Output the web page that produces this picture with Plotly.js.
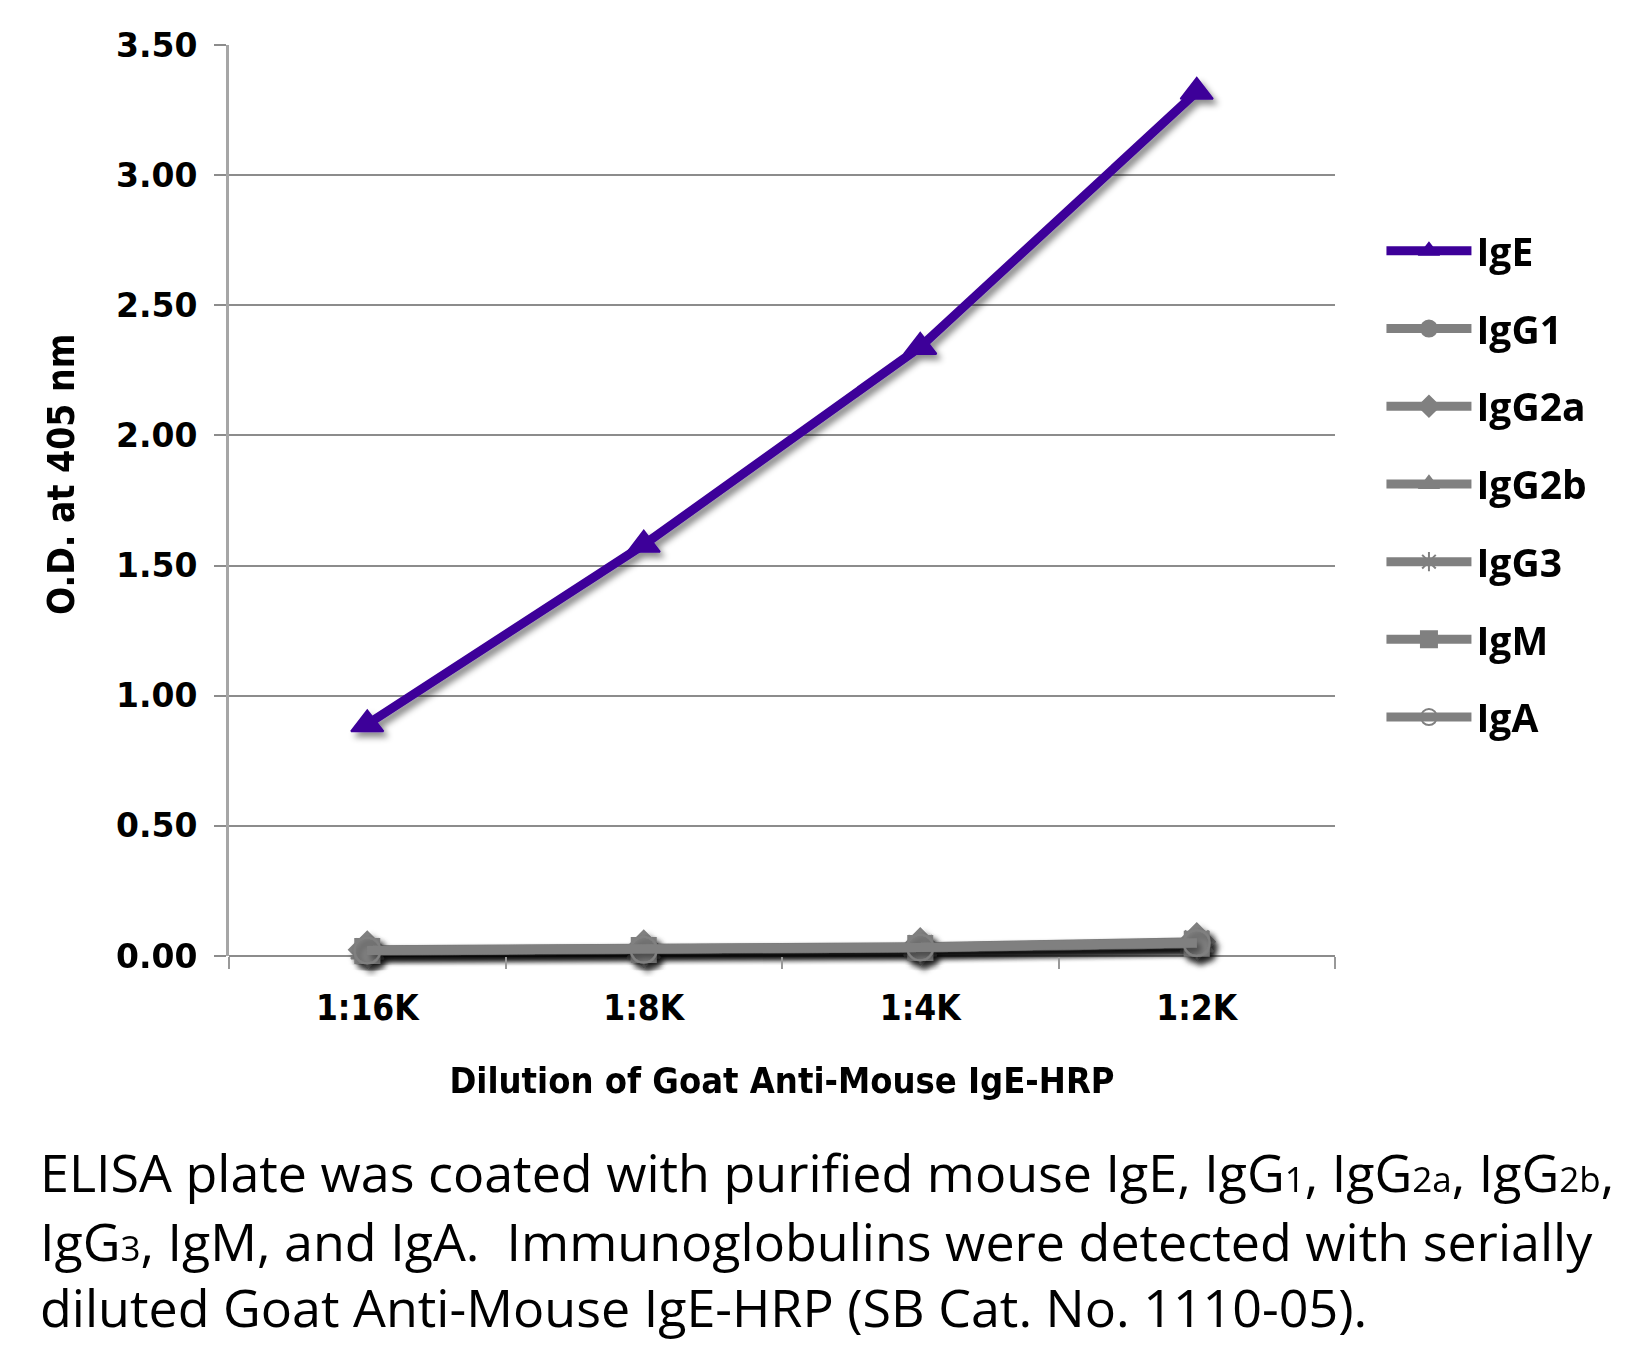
<!DOCTYPE html>
<html>
<head>
<meta charset="utf-8">
<script src="https://cdn.plot.ly/plotly-3.0.1.min.js"></script>
<style>
  html, body { margin: 0; padding: 0; background: #fff; }
  #chart { width: 1635px; height: 1345px; }
</style>
</head>
<body>
<div id="chart"></div>
<script>
// ---- data ----
const dilutions = ["1:16K", "1:8K", "1:4K", "1:2K"];
const IgE   = [0.89, 1.58, 2.34, 3.32];
const IgG1  = [0.020, 0.024, 0.032, 0.050];
const IgG2a = [0.024, 0.027, 0.036, 0.055];
const IgG2b = [0.017, 0.021, 0.029, 0.045];
const IgG3  = [0.022, 0.025, 0.034, 0.052];
const IgM   = [0.019, 0.023, 0.031, 0.047];
const IgA   = [0.021, 0.024, 0.033, 0.050];
const yTicks = [0, 0.5, 1, 1.5, 2, 2.5, 3, 3.5];

const purple = "#3d0099";
const gray = "#808080";
const narrow = "Liberation Sans Narrow, DejaVu Sans Condensed, Roboto Condensed, Liberation Sans, sans-serif";
const caption = "Open Sans, Noto Sans, Lato, sans-serif";

function series(name, y, color, symbol, msize, lw) {
  return {
    type: "scatter",
    mode: "lines+markers",
    name: name,
    legendgroup: name,
    x: dilutions,
    y: y,
    line: { color: color, width: lw },
    marker: { symbol: symbol, size: msize, color: color, line: { color: color, width: 2 } },
    cliponaxis: false
  };
}

const traces = [
  series("IgE", IgE, purple, "triangle-up", 28, 9),
  series("IgG1", IgG1, gray, "circle", 26, 9),
  series("IgG2a", IgG2a, gray, "diamond", 28, 9),
  series("IgG2b", IgG2b, gray, "triangle-up", 28, 9),
  series("IgG3", IgG3, gray, "asterisk-open", 28, 9),
  series("IgM", IgM, gray, "square", 24, 9),
  series("IgA", IgA, gray, "circle-open", 26, 9)
];

const sub = s => '<span style="font-size:35px">' + s + '</span>';

function captionLine(text, y) {
  return {
    xref: "paper", yref: "paper", x: -0.1727, y: y, xanchor: "left", yanchor: "middle",
    showarrow: false, align: "left",
    font: { family: caption, size: 52, color: "#000" },
    text: text
  };
}

const layout = {
  width: 1635,
  height: 1345,
  paper_bgcolor: "#ffffff",
  plot_bgcolor: "#ffffff",
  margin: { l: 229, r: 300, t: 45, b: 389 },
  showlegend: true,
  legend: {
    x: 1.042, xanchor: "left",
    y: 0.809, yanchor: "top",
    font: { family: "Open Sans, Lato, sans-serif", size: 39, color: "#000", weight: "bold" },
    tracegroupgap: 24,
    itemwidth: 85,
    bgcolor: "rgba(0,0,0,0)"
  },
  xaxis: {
    type: "category",
    range: [-0.5, 3.5],
    showgrid: false,
    showline: false,
    zeroline: false,
    ticks: "outside",
    tickson: "boundaries",
    ticklen: 12,
    tickwidth: 2,
    tickcolor: "#999",
    ticklabelstandoff: 28,
    tickfont: { family: narrow, size: 35, color: "#000", weight: "bold" },
    title: {
      text: "Dilution of Goat Anti-Mouse IgE-HRP",
      font: { family: narrow, size: 36, color: "#000", weight: "bold" },
      standoff: 40
    }
  },
  yaxis: {
    range: [0, 3.5],
    tickvals: yTicks,
    ticktext: yTicks.map(v => v.toFixed(2)),
    showgrid: true,
    gridcolor: "#8c8c8c",
    gridwidth: 2,
    zeroline: true,
    zerolinecolor: "#8c8c8c",
    zerolinewidth: 2,
    showline: true,
    linecolor: "#a6a6a6",
    linewidth: 3,
    ticks: "outside",
    ticklen: 12,
    tickwidth: 2,
    tickcolor: "#8c8c8c",
    ticklabelstandoff: 10,
    tickfont: { family: "DejaVu Sans, sans-serif", size: 33, color: "#000", weight: "bold" }
  },
  annotations: [
    {
      xref: "paper", yref: "paper", x: -0.152, y: 0.529, xanchor: "center", yanchor: "middle",
      showarrow: false, textangle: -90,
      font: { family: narrow, size: 37, color: "#000", weight: "bold" },
      text: "O.D. at 405 nm"
    },
    captionLine("ELISA plate was coated with purified mouse IgE, IgG" + sub("1") + ", IgG" + sub("2a") + ", IgG" + sub("2b") + ",", -0.237),
    captionLine("IgG" + sub("3") + ", IgM, and IgA.  Immunoglobulins were detected with serially", -0.312),
    captionLine("diluted Goat Anti-Mouse IgE-HRP (SB Cat. No. 1110-05).", -0.385)
  ]
};

Plotly.newPlot("chart", traces, layout, { displayModeBar: false, staticPlot: true }).then(gd => {
  // soft drop shadow under the plotted series, as in the reference
  const NS = "http://www.w3.org/2000/svg";
  const svg = gd.querySelector("svg.main-svg");
  const defs = document.createElementNS(NS, "defs");
  const filter = document.createElementNS(NS, "filter");
  filter.setAttribute("id", "seriesShadow");
  filter.setAttribute("x", "-20%");
  filter.setAttribute("y", "-20%");
  filter.setAttribute("width", "140%");
  filter.setAttribute("height", "140%");
  const ds = document.createElementNS(NS, "feDropShadow");
  ds.setAttribute("dx", "4");
  ds.setAttribute("dy", "5");
  ds.setAttribute("stdDeviation", "3");
  ds.setAttribute("flood-color", "#000");
  ds.setAttribute("flood-opacity", "0.45");
  filter.appendChild(ds);
  defs.appendChild(filter);
  svg.insertBefore(defs, svg.firstChild);
  gd.querySelectorAll(".scatterlayer .trace").forEach(t => t.setAttribute("filter", "url(#seriesShadow)"));
});
</script>
</body>
</html>
